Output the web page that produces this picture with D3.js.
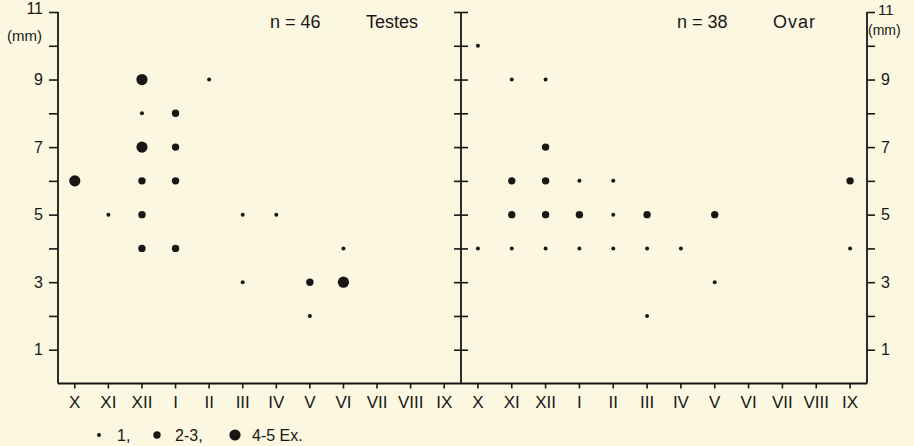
<!DOCTYPE html>
<html><head><meta charset="utf-8">
<script src="https://cdn.jsdelivr.net/npm/d3@7"></script>
<style>
html,body{margin:0;padding:0;background:#fcf7e1;}
svg{display:block;}
text{font-family:"Liberation Sans",Arial,sans-serif;fill:#1b1616;}
</style></head>
<body>
<svg id="c" width="914" height="446"></svg>
<script>
// ---- data ----
const months = ["X","XI","XII","I","II","III","IV","V","VI","VII","VIII","IX"];
const yTicks = [1,2,3,4,5,6,7,8,9,10,11];
const yLabels = [1,3,5,7,9,11];
// size class: 1 = "1", 2 = "2-3", 3 = "4-5 Ex."
const testesMonth = ["X","XI","XII","XII","XII","XII","XII","XII","I","I","I","I","II","III","III","IV","V","V","VI","VI"];
const testesValue = [6,5,9,8,7,6,5,4,8,7,6,4,9,5,3,5,3,2,4,3];
const testesClass = [3,1,3,1,3,2,2,2,2,2,2,2,1,1,1,1,2,1,1,3];
const ovarMonth = ["X","X","XI","XI","XI","XI","XII","XII","XII","XII","XII","I","I","I","II","II","II","III","III","III","IV","V","V","IX","IX"];
const ovarValue = [10,4,9,6,5,4,9,7,6,5,4,6,5,4,6,5,4,5,4,2,4,5,3,6,4];
const ovarClass = [1,1,1,2,2,1,1,2,2,2,1,1,2,1,1,1,1,2,1,1,1,2,1,2,1];
const panelTitles = [["n = 46","Testes"],["n = 38","Ovar"]];
const legendLabels = ["1,","2-3,","4-5 Ex."];

// ---- layout ----
const svg = d3.select("#c");
const ink = "#1b1616";
const xL = 58, xM = 461, xR = 867;
const y = d3.scaleLinear().domain([0,11]).range([383.5,12]);
const xLeft = d3.scaleBand().domain(months).range([xL,xM]).padding(0);
const xRight = d3.scaleBand().domain(months).range([xM,xR]).padding(0);
const r = d3.scaleOrdinal().domain([1,2,3]).range([2,3.7,5.6]);

function styleAxis(g){
  g.selectAll("line").attr("stroke",ink).attr("stroke-width",1.6);
  g.selectAll("path").attr("stroke",ink).attr("stroke-width",1.8);
  g.selectAll("text").attr("font-size",16).attr("fill",ink);
}

// bottom axes
[xLeft,xRight].forEach(sc=>{
  const g = svg.append("g").attr("transform",`translate(0,${y(0)})`)
    .call(d3.axisBottom(sc).tickSize(5).tickSizeOuter(0).tickPadding(7));
  g.select(".domain").remove();
  styleAxis(g);
  g.selectAll("text").attr("font-size",17);
});
svg.append("line").attr("x1",xL).attr("x2",xR).attr("y1",y(0)).attr("y2",y(0))
  .attr("stroke",ink).attr("stroke-width",1.8);

// left axis
const fmt = d => yLabels.includes(d) ? d : "";
const gl = svg.append("g").attr("transform",`translate(${xL},0)`)
  .call(d3.axisLeft(y).tickValues(yTicks).tickFormat(fmt).tickSize(9).tickSizeOuter(0).tickPadding(6));
gl.select(".domain").remove();
styleAxis(gl);
gl.selectAll(".tick").filter(d=>d===11).select("text").attr("dy","0.1em");
svg.append("line").attr("x1",xL).attr("x2",xL).attr("y1",y(0)).attr("y2",y(11)).attr("stroke",ink).attr("stroke-width",1.8);

// right axis
const gr = svg.append("g").attr("transform",`translate(${xR},0)`)
  .call(d3.axisRight(y).tickValues(yTicks).tickFormat(fmt).tickSize(8).tickSizeOuter(0).tickPadding(6));
gr.select(".domain").remove();
styleAxis(gr);
gr.selectAll(".tick").filter(d=>d===11).select("text").attr("x",11).attr("dy","0.15em").attr("font-size",15);
svg.append("line").attr("x1",xR).attr("x2",xR).attr("y1",y(0)).attr("y2",y(11)).attr("stroke",ink).attr("stroke-width",1.8);

// middle axis (ticks both sides)
const gm = svg.append("g").attr("transform",`translate(${xM},0)`)
  .call(d3.axisLeft(y).tickValues(yTicks).tickFormat("").tickSize(7).tickSizeOuter(0));
gm.select(".domain").remove();
gm.selectAll(".tick line").attr("x2",-7).attr("x1",7);
styleAxis(gm);
svg.append("line").attr("x1",xM).attr("x2",xM).attr("y1",y(0)).attr("y2",y(11)).attr("stroke",ink).attr("stroke-width",1.8);

// (mm) labels
svg.append("text").attr("x",7).attr("y",41).attr("font-size",15).text("(mm)");
svg.append("text").attr("x",868).attr("y",35).attr("font-size",14).text("(mm)");

// dots
function dots(mo,va,cl,sc){
  svg.append("g").selectAll("circle").data(mo.map((m,i)=>({m,v:va[i],c:cl[i]})))
    .join("circle")
    .attr("cx",d=>sc(d.m)+sc.bandwidth()/2)
    .attr("cy",d=>y(d.v))
    .attr("r",d=>r(d.c))
    .attr("fill",ink);
}
dots(testesMonth,testesValue,testesClass,xLeft);
dots(ovarMonth,ovarValue,ovarClass,xRight);

// titles
svg.append("text").attr("x",270).attr("y",28).attr("font-size",18).text(panelTitles[0][0]);
svg.append("text").attr("x",366).attr("y",28).attr("font-size",18).text(panelTitles[0][1]);
svg.append("text").attr("x",677).attr("y",28).attr("font-size",18).text(panelTitles[1][0]);
svg.append("text").attr("x",773).attr("y",28).attr("font-size",18).attr("letter-spacing",1).text(panelTitles[1][1]);

// legend
const legX = [99,157,235];
const legT = [117,175,252];
legendLabels.forEach((t,i)=>{
  svg.append("circle").attr("cx",legX[i]).attr("cy",435).attr("r",r(i+1)).attr("fill",ink);
  svg.append("text").attr("x",legT[i]).attr("y",441).attr("font-size",16).text(t);
});
</script>
</body></html>
